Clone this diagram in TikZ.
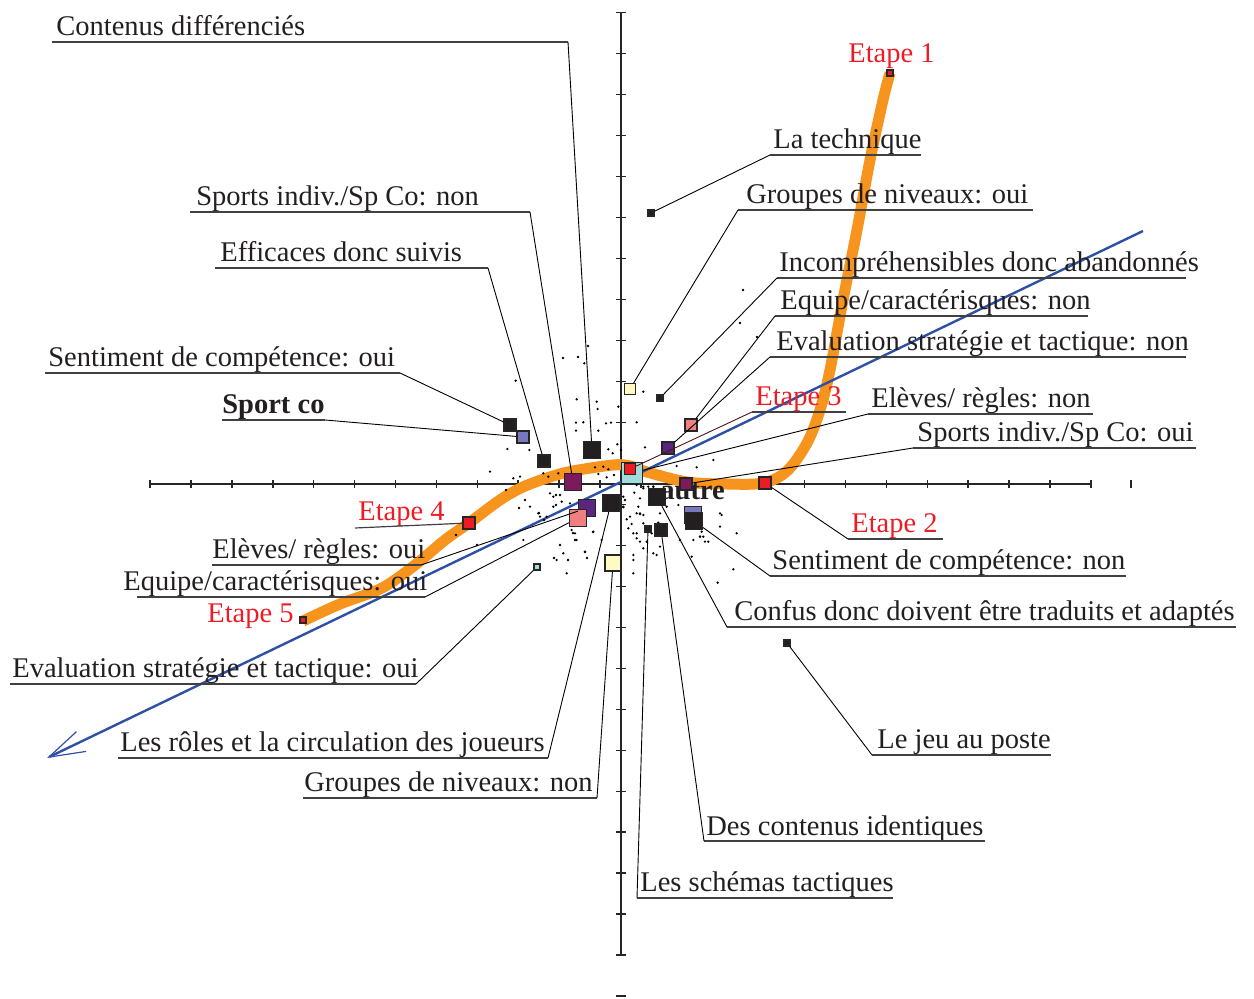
\documentclass[tikz,border=0pt]{standalone}
\usepackage{fontspec}
\setmainfont{Liberation Serif}
\usetikzlibrary{arrows.meta}
\definecolor{orng}{RGB}{247,148,29}
\definecolor{bl}{RGB}{46,80,165}
\definecolor{rd}{RGB}{237,28,36}
\definecolor{pk}{RGB}{240,128,128}
\definecolor{plum}{RGB}{125,26,94}
\definecolor{vio}{RGB}{91,37,128}
\definecolor{lav}{RGB}{120,120,190}
\definecolor{yel}{RGB}{255,249,196}
\definecolor{cy}{RGB}{160,220,220}
\definecolor{blk}{RGB}{35,31,32}
\definecolor{brn}{RGB}{80,20,20}
\newcommand\lbl[6]{%
  \node[lab] (#1) at ({#2},{#3-6}) {#6};
  \coordinate (#1L) at ({#4},{#3});
  \coordinate (#1R) at ({#5},{#3});
  \draw[ul] (#1L) -- (#1R);}
\begin{document}
\begin{tikzpicture}[x=0.5pt,y=-0.5pt,
  sq/.style={rectangle,draw=black!85,line width=0.6pt,inner sep=0pt,minimum size={#1*0.5pt}},
  lab/.style={inner sep=0pt,anchor=base west,font=\fontsize{14.25}{16}\selectfont,text=blk},
  etl/.style={lab,text=rd},
  ul/.style={line width=0.6pt,draw=black!75},
  lead/.style={line width=0.45pt,draw=black},
  axis/.style={line width=0.8pt,draw=black!85},
  curve/.style={line width=5.5pt,draw=orng},
  trend/.style={line width=1.2pt,draw=bl,-{Straight Barb[length=18pt,width=11pt,line width=0.6pt]}},
  dot/.style={fill=black}]
\useasboundingbox (0,0) rectangle (1254,999);
% axes
\draw[axis] (150,484) -- (1091,484);
\foreach \i in {0,...,23} \draw[axis] ({150+40.913*\i},480) -- ({150+40.913*\i},488);
\draw[axis] (1131,480) -- (1131,488);
\draw[axis] (621,12.7) -- (621,955.3);
\foreach \i in {0,...,23} \draw[axis] (616,{12.7+40.98*\i}) -- (626,{12.7+40.98*\i});
\draw[axis] (616,996) -- (626,996);
% orange curve
\draw[curve] plot[smooth,tension=0.55] coordinates {(303,621) (340,604) (382,588) (415,565) (445,540) (469,523) (500,500) (523,487) (550,477) (573,471) (613,465) (630,466) (647,472) (687,482) (727,484) (763,483) (787,471) (807,443) (820,410) (830,370) (843,300) (857,230) (870,160) (883,100) (890,73)};
% blue trend
\coordinate (bs) at (1143,231);
\coordinate (be) at (47,758);
\draw[trend] (bs) -- (be);
% dots
\foreach \a/\b in {313/10,107/62,290/118,350/125,353/147,288/188,310/187,378/190,393/188,355/212,288/212,82/267,148/270,415/140,470/187,490/95,495/262,412/253,385/268,398/280,423/270,30/335,100/355,120/350,190/340,205/350,235/340,345/322,370/320,385/328,355/342,380/352,402/345,470/375,490/385,520/380,590/318,650/322,700/300,210/400,220/410,240/405,245/425,270/430,220/440,150/440,175/460,180/470,200/470,130/540,240/555,250/580,275/510,285/520,290/540,340/515,365/540,430/440,450/470,480/460,490/490,470/520,500/545,460/600,460/640,520/580,540/560,600/540,640/540,665/515,720/460,660/530,770/520,315/575,260/640,230/600}
  \fill[dot] ({480+\a/3},{360+\b/3}) circle[radius=0.65pt];
\foreach \a/\b in {100/50,105/60,100/82,133/38,150/55,160/20,175/20,190/20,145/80,140/100,150/102,160/105,110/118,125/132,115/145,130/160,140/175,150/185,160/205,130/225,200/225,185/160,205/128,210/100,230/80,245/30,265/75,305/230,330/170,340/170,345/185,355/185,395/105,390/140,430/268,383/308}
  \fill[dot] ({590+\a/3},{480+\b/3}) circle[radius=0.65pt];
\foreach \a/\b in {743/290,740/323,757/337,506/490,519/508,525/500,539/513,544/520,556/505,556/495,568/560,585/552,587/558,573/533,575/540,554/558,593/532,477/545,456/535,578/357,588/346,563/358}
  \fill[dot] (\a,\b) circle[radius=0.65pt];
% autre
\node[lab,font=\fontsize{14.25}{16}\selectfont\bfseries] (autre) at (660,500) {autre};
% squares
\node[sq=17,fill=blk] (pCD) at (592,450) {};
\node[sq=6,fill=blk] (pLT) at (651,213) {};
\node[sq=11,fill=yel] (pGO) at (630,389) {};
\node[sq=17,fill=plum] (pSN) at (573,482) {};
\node[sq=12,fill=blk] (pEF) at (544,461) {};
\node[sq=6,fill=blk] (pIN) at (660,398) {};
\node[sq=12,fill=pk] (pEQN) at (691,425) {};
\node[sq=12,fill=vio] (pEVN) at (668,448) {};
\node[sq=12,fill=blk] (pSCO) at (510,425) {};
\node[sq=12,fill=lav] (pSP) at (523,437) {};
\node[sq=21,fill=cy] (pCY) at (632,473) {};
\node[sq=11,fill=rd] (pE3) at (630,469) {};
\node[sq=12,fill=plum] (pSO) at (686,484) {};
\node[sq=12,fill=rd] (pE2) at (765,483) {};
\node[sq=17,fill=lav] (pAU) at (693,515) {};
\node[sq=17,fill=blk] (pSCN) at (694,521) {};
\node[sq=17,fill=blk] (pCF) at (657,497) {};
\node[sq=6,fill=blk] (pLJ) at (787,643) {};
\node[sq=12,fill=blk] (pDC) at (661,530) {};
\node[sq=6,fill=blk] (pLS) at (648,529) {};
\node[sq=16,fill=yel] (pGN) at (613,563) {};
\node[sq=17,fill=blk] (pLR) at (611,503) {};
\node[sq=6,fill=cy] (pEVO) at (537,567) {};
\node[sq=17,fill=vio] (pEL) at (587,508) {};
\node[sq=17,fill=pk] (pEQO) at (578,518) {};
\node[sq=12,fill=rd] (pE4) at (469,523) {};
\node[sq=6,fill=rd] (pE5) at (303,620) {};
\node[sq=6,fill=rd] (pE1) at (890,73) {};
% labels
\lbl{nCD}{56}{42}{52}{568}{Contenus différenciés}
\draw[lead] (nCDR) -- (pCD);
\lbl{nLT}{773}{155}{770}{921}{La technique}
\draw[lead] (nLTL) -- (pLT);
\lbl{nGO}{746}{210}{738}{1033}{Groupes de niveaux: oui}
\draw[lead] (nGOL) -- (pGO);
\lbl{nSN}{196}{212}{190}{530}{Sports indiv./Sp Co: non}
\draw[lead] (nSNR) -- (pSN);
\lbl{nEF}{220}{268}{215}{488}{Efficaces donc suivis}
\draw[lead] (nEFR) -- (pEF);
\lbl{nIN}{779}{278}{777}{1186}{Incompréhensibles donc abandonnés}
\draw[lead] (nINL) -- (pIN);
\lbl{nEQN}{780}{316}{775}{1088}{Equipe/caractérisques: non}
\draw[lead] (nEQNL) -- (pEQN);
\lbl{nEVN}{776}{357}{770}{1186}{Evaluation stratégie et tactique: non}
\draw[lead] (nEVNL) -- (pEVN);
\lbl{nSCO}{48}{373}{45}{400}{Sentiment de compétence: oui}
\draw[lead] (nSCOR) -- (pSCO);
\node[lab,font=\fontsize{14.25}{16}\selectfont\bfseries] (nSP) at (222,414) {Sport co};
\coordinate (nSPL) at (222,420);
\coordinate (nSPR) at (325,420);
\draw[ul] (nSPL) -- (nSPR);
\draw[lead] (nSPR) -- (pSP);
\node[etl] (nE3) at (755,406) {Etape 3};
\coordinate (nE3L) at (752,412);
\coordinate (nE3R) at (846,412);
\draw[ul] (nE3L) -- (nE3R);
\draw[lead,draw=brn] (nE3L) -- (pE3);
\lbl{nEN}{871}{414}{868}{1093}{Elèves/ règles: non}
\draw[lead] (nENL) -- (pCY);
\lbl{nSO}{917}{448}{913}{1196}{Sports indiv./Sp Co: oui}
\draw[lead] (nSOL) -- (pSO);
\node[etl] (nE2) at (851,533) {Etape 2};
\coordinate (nE2L) at (848,539);
\coordinate (nE2R) at (943,539);
\draw[ul] (nE2L) -- (nE2R);
\draw[lead] (nE2L) -- (pE2);
\lbl{nSCN}{772}{576}{770}{1126}{Sentiment de compétence: non}
\draw[lead] (nSCNL) -- (pSCN);
\lbl{nCF}{734}{627}{727}{1236}{Confus donc doivent être traduits et adaptés}
\draw[lead] (nCFL) -- (pCF);
\lbl{nLJ}{877}{755}{872}{1051}{Le jeu au poste}
\draw[lead] (nLJL) -- (pLJ);
\lbl{nDC}{706}{841}{704}{985}{Des contenus identiques}
\draw[lead] (nDCL) -- (pDC);
\lbl{nLS}{640}{898}{637}{893}{Les schémas tactiques}
\draw[lead] (nLSL) -- (pLS);
\lbl{nGN}{304}{798}{303}{597}{Groupes de niveaux: non}
\draw[lead] (nGNR) -- (pGN);
\lbl{nLR}{120}{758}{118}{548}{Les rôles et la circulation des joueurs}
\draw[lead] (nLRR) -- (pLR);
\lbl{nEVO}{12}{684}{10}{416}{Evaluation stratégie et tactique: oui}
\draw[lead] (nEVOR) -- (pEVO);
\lbl{nEQO}{123}{597}{137}{425}{Equipe/caractérisques: oui}
\draw[lead] (nEQOR) -- (pEQO);
\lbl{nEL}{212}{565}{212}{421}{Elèves/ règles: oui}
\draw[lead] (nELR) -- (pEL);
\node[etl] (nE4) at (358,521) {Etape 4};
\coordinate (nE4L) at (355,528);
\draw[ul] (nE4L) -- (pE4);
\node[etl] (nE5) at (207,623) {Etape 5};
\node[etl] (nE1) at (848,63) {Etape 1};
\end{tikzpicture}
\end{document}
